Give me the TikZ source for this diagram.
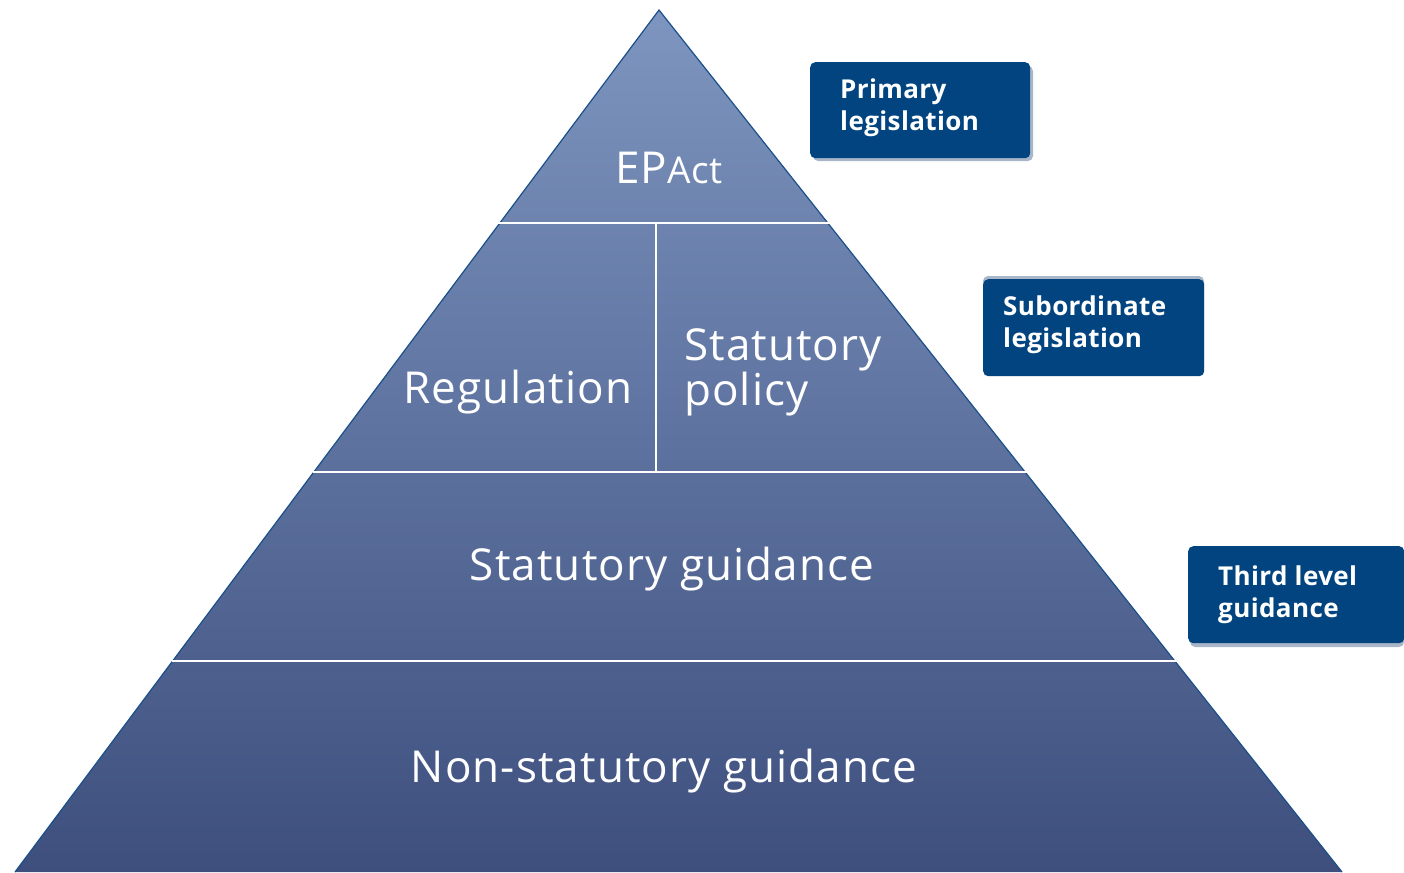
\documentclass[tikz,border=0pt]{standalone}
\usepackage{fontspec}
\setmainfont{Open Sans}
\definecolor{pyrtop}{HTML}{7D95BF}
\definecolor{pyrbot}{HTML}{3E4F7E}
\definecolor{pyredge}{HTML}{1A4F8A}
\definecolor{boxblue}{HTML}{01447F}
\definecolor{boxshadow}{HTML}{A9B6C8}
\newfontfamily\pyrfont[LetterSpace=2.5]{Open Sans}
\newfontfamily\boxfont[LetterSpace=1.5]{Open Sans}
\tikzset{
  pyrtext/.style={text=white, inner sep=0pt, font=\pyrfont\fontsize{44}{40}\selectfont},
  sepline/.style={draw=white, line width=2.2pt},
  levelbox/.style={fill=boxblue, rounded corners=5pt, draw=none},
  boxshad/.style={fill=boxshadow, rounded corners=5pt, draw=none},
  boxtext/.style={text=white, inner sep=0pt, anchor=west, align=left,
    font=\boxfont\bfseries\fontsize{26}{32}\selectfont},
}
\begin{document}
\begin{tikzpicture}[x=1pt,y=-1pt]
\useasboundingbox (0,0) rectangle (1404,872);
% pyramid corners
\coordinate (apex) at (659,10);
\coordinate (bl) at (15,872);
\coordinate (br) at (1342,872);
\begin{scope}
  \clip (apex) -- (br) -- (bl) -- cycle;
  \shade[top color=pyrtop, bottom color=pyrbot] (0,10) rectangle (1404,872);
\end{scope}
\draw[pyredge, line width=1.2pt, line join=miter] (bl) -- (apex) -- (br);
% separators
\coordinate (s1l) at (498,223); \coordinate (s1r) at (830,223);
\coordinate (s2l) at (313,472); \coordinate (s2r) at (1027,472);
\coordinate (s3l) at (172,661); \coordinate (s3r) at (1177,661);
\coordinate (vt) at (656,223); \coordinate (vb) at (656,472);
\draw[sepline] (s1l) -- (s1r);
\draw[sepline] (s2l) -- (s2r);
\draw[sepline] (s3l) -- (s3r);
\draw[sepline] (vt) -- (vb);
% pyramid labels
\node[pyrtext] (epact) at (669,168) {EP{\fontsize{37}{40}\selectfont Act}};
\node[pyrtext] (reg) at (518,392) {Regulation};
\node[pyrtext, anchor=west, align=left] (stpol) at (684,372) {Statutory\\policy};
\node[pyrtext] (stguid) at (672,569) {Statutory guidance};
\node[pyrtext] (nsguid) at (664,771) {Non-statutory guidance};
% level boxes
\fill[boxshad] (813,66) rectangle (1033,161);
\node[levelbox, minimum width=220pt, minimum height=96pt, anchor=north west] (b1) at (810,62) {};
\node[boxtext] (t1) at (840,108) {Primary\\legislation};
\fill[boxshad] (983,276) rectangle (1204,372);
\node[levelbox, minimum width=221pt, minimum height=97pt, anchor=north west] (b2) at (983,279) {};
\node[boxtext] (t2) at (1003,325) {Subordinate\\legislation};
\fill[boxshad] (1190,549) rectangle (1404,647);
\node[levelbox, minimum width=216pt, minimum height=97pt, anchor=north west] (b3) at (1188,546) {};
\node[boxtext] (t3) at (1218,595) {Third level\\guidance};
\end{tikzpicture}
\end{document}
